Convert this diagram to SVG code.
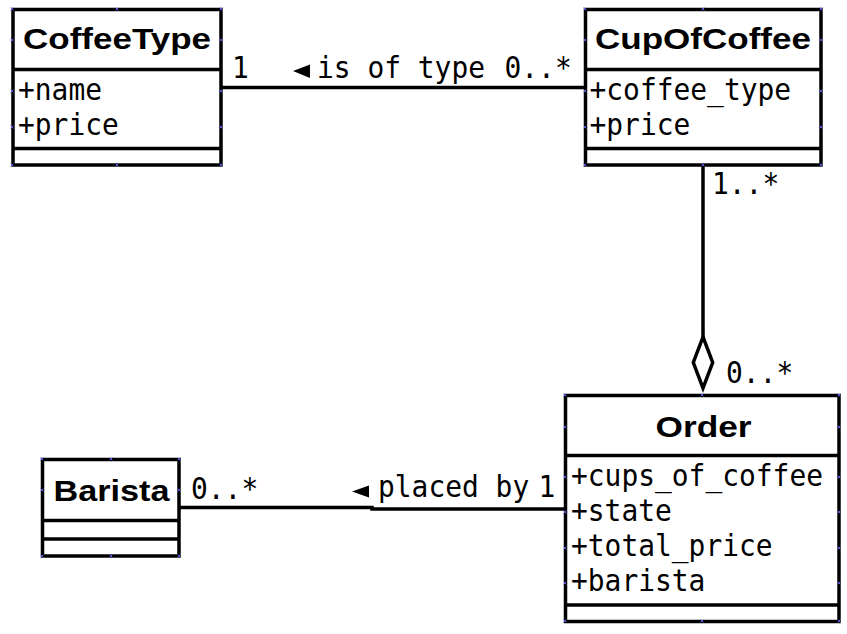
<svg xmlns="http://www.w3.org/2000/svg" xmlns:xlink="http://www.w3.org/1999/xlink" width="847" height="634" viewBox="0 0 847 634">
  <style>
    .box { fill: #ffffff; stroke: #000000; stroke-width: 3.5; }
    .div { stroke: #000000; stroke-width: 3.5; }
    .title { font-family: "Liberation Sans", Arial, sans-serif; font-weight: bold; font-size: 30px; fill: #000000; }
    .mono { font-family: "DejaVu Sans Mono", "Liberation Mono", monospace; font-size: 30px; fill: #000000; }
    .conn { fill: none; stroke: #000000; stroke-width: 3.5; }
    .hd { stroke: #6a6aff; stroke-width: 0.8; fill: none; }
  </style>
  <defs>
    <path id="h" class="hd" d="M-1.5,-1.5 L1.5,1.5 M-1.5,1.5 L1.5,-1.5"/>
  </defs>
  <rect width="847" height="634" fill="#ffffff"/>

  <g id="connectors">
    <path class="conn" d="M221 87.5 H585.5"/>
    <path class="conn" d="M703 165 V337"/>
    <polygon class="conn" points="703,337 693.3,362.5 703,388 712.7,362.5"/>
    <path class="conn" d="M179 507.5 H372 V509 H565.5"/>
    <polygon points="293,71 310,64.5 310,78" fill="#000000"/>
    <polygon points="352,491.5 369,485.5 369,497.5" fill="#000000"/>
    <text class="mono" x="232" y="78" textLength="16.8" lengthAdjust="spacingAndGlyphs">1</text>
    <text class="mono" x="317" y="78" textLength="168" lengthAdjust="spacingAndGlyphs">is of type</text>
    <text class="mono" x="504.5" y="78" textLength="67.2" lengthAdjust="spacingAndGlyphs">0..*</text>
    <text class="mono" x="712" y="194" textLength="67.2" lengthAdjust="spacingAndGlyphs">1..*</text>
    <text class="mono" x="726" y="383" textLength="67.2" lengthAdjust="spacingAndGlyphs">0..*</text>
    <text class="mono" x="191" y="499" textLength="67.2" lengthAdjust="spacingAndGlyphs">0..*</text>
    <text class="mono" x="378" y="497" textLength="151.2" lengthAdjust="spacingAndGlyphs">placed by</text>
    <text class="mono" x="538.6" y="497" textLength="16.8" lengthAdjust="spacingAndGlyphs">1</text>
  </g>

  <g id="CoffeeType">
    <rect class="box" x="13" y="9.5" width="208" height="155.5"/>
    <line class="div" x1="13" y1="69.5" x2="221" y2="69.5"/>
    <line class="div" x1="13" y1="148.5" x2="221" y2="148.5"/>
    <text class="title" x="23" y="49.3" textLength="188" lengthAdjust="spacingAndGlyphs">CoffeeType</text>
    <text class="mono" x="18" y="100" textLength="84" lengthAdjust="spacingAndGlyphs">+name</text>
    <text class="mono" x="18" y="135" textLength="100.8" lengthAdjust="spacingAndGlyphs">+price</text>
  </g>

  <g id="CupOfCoffee">
    <rect class="box" x="585.5" y="9.5" width="235.5" height="155.5"/>
    <line class="div" x1="585.5" y1="69.5" x2="821" y2="69.5"/>
    <line class="div" x1="585.5" y1="148.5" x2="821" y2="148.5"/>
    <text class="title" x="595" y="48.5" textLength="216" lengthAdjust="spacingAndGlyphs">CupOfCoffee</text>
    <text class="mono" x="589.5" y="100" textLength="201.6" lengthAdjust="spacingAndGlyphs">+coffee_type</text>
    <text class="mono" x="589.5" y="135" textLength="100.8" lengthAdjust="spacingAndGlyphs">+price</text>
  </g>

  <g id="Order">
    <rect class="box" x="565.5" y="395.5" width="273.5" height="226"/>
    <line class="div" x1="565.5" y1="455.5" x2="839" y2="455.5"/>
    <line class="div" x1="565.5" y1="605" x2="839" y2="605"/>
    <text class="title" x="655.5" y="436.7" textLength="96" lengthAdjust="spacingAndGlyphs">Order</text>
    <text class="mono" x="571" y="486" textLength="252" lengthAdjust="spacingAndGlyphs">+cups_of_coffee</text>
    <text class="mono" x="571" y="521" textLength="100.8" lengthAdjust="spacingAndGlyphs">+state</text>
    <text class="mono" x="571" y="556" textLength="201.6" lengthAdjust="spacingAndGlyphs">+total_price</text>
    <text class="mono" x="571" y="591" textLength="134.4" lengthAdjust="spacingAndGlyphs">+barista</text>
  </g>

  <g id="Barista">
    <rect class="box" x="42.5" y="459.5" width="136.5" height="96.5"/>
    <line class="div" x1="42.5" y1="520.5" x2="179" y2="520.5"/>
    <line class="div" x1="42.5" y1="539" x2="179" y2="539"/>
    <text class="title" x="53.5" y="500.7" textLength="116" lengthAdjust="spacingAndGlyphs">Barista</text>
  </g>

  <g id="handles">
    <use xlink:href="#h" x="12" y="9"/><use xlink:href="#h" x="117" y="9"/><use xlink:href="#h" x="221" y="9"/>
    <use xlink:href="#h" x="12" y="40"/><use xlink:href="#h" x="221" y="40"/>
    <use xlink:href="#h" x="12" y="91"/><use xlink:href="#h" x="221" y="91"/>
    <use xlink:href="#h" x="12" y="127"/><use xlink:href="#h" x="221" y="127"/>
    <use xlink:href="#h" x="12" y="165"/><use xlink:href="#h" x="117" y="165"/><use xlink:href="#h" x="221" y="165"/>

    <use xlink:href="#h" x="585" y="9"/><use xlink:href="#h" x="703" y="9"/><use xlink:href="#h" x="821" y="9"/>
    <use xlink:href="#h" x="585" y="40"/><use xlink:href="#h" x="821" y="40"/>
    <use xlink:href="#h" x="585" y="91"/><use xlink:href="#h" x="821" y="91"/>
    <use xlink:href="#h" x="585" y="127"/><use xlink:href="#h" x="821" y="127"/>
    <use xlink:href="#h" x="585" y="165"/><use xlink:href="#h" x="703" y="165"/><use xlink:href="#h" x="821" y="165"/>

    <use xlink:href="#h" x="565" y="395"/><use xlink:href="#h" x="702" y="395"/><use xlink:href="#h" x="839" y="395"/>
    <use xlink:href="#h" x="565" y="427"/><use xlink:href="#h" x="839" y="427"/>
    <use xlink:href="#h" x="565" y="477"/><use xlink:href="#h" x="839" y="477"/>
    <use xlink:href="#h" x="565" y="512"/><use xlink:href="#h" x="839" y="512"/>
    <use xlink:href="#h" x="565" y="548"/><use xlink:href="#h" x="839" y="548"/>
    <use xlink:href="#h" x="565" y="583"/><use xlink:href="#h" x="839" y="583"/>
    <use xlink:href="#h" x="565" y="621"/><use xlink:href="#h" x="702" y="621"/><use xlink:href="#h" x="839" y="621"/>

    <use xlink:href="#h" x="42" y="459"/><use xlink:href="#h" x="111" y="459"/><use xlink:href="#h" x="179" y="459"/>
    <use xlink:href="#h" x="42" y="490"/><use xlink:href="#h" x="179" y="490"/>
    <use xlink:href="#h" x="42" y="556"/><use xlink:href="#h" x="111" y="556"/><use xlink:href="#h" x="179" y="556"/>
  </g>
</svg>
